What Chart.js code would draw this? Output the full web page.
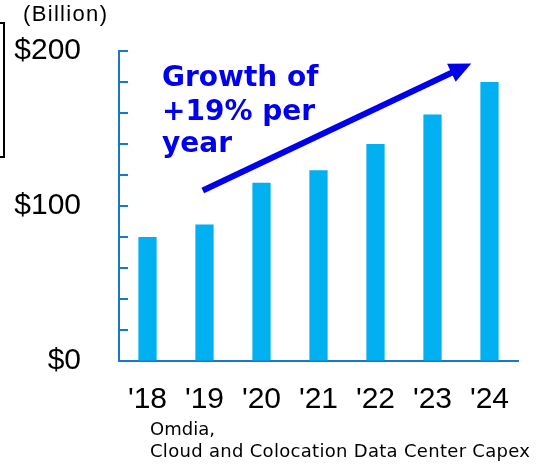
<!DOCTYPE html>
<html>
<head>
<meta charset="utf-8">
<script src="https://cdn.jsdelivr.net/npm/chart.js@4/dist/chart.umd.min.js"></script>
<style>
  html, body { margin: 0; padding: 0; background: #fff; }
  #wrap { width: 545px; height: 465px; position: relative; }
</style>
</head>
<body>
<div id="wrap"><canvas id="c"></canvas></div>
<script>
// ---- data ----
const categories = ["'18", "'19", "'20", "'21", "'22", "'23", "'24"];
const capexValues = [80, 88, 115, 123, 140, 159, 180];
const yMin = 0, yMax = 200, yStep = 20;
const yLabelValues = [0, 100, 200];
const unitLabel = '(Billion)';
const annotationLines = ['Growth of', '+19% per', 'year'];
const footnoteLines = ['Omdia,', 'Cloud and Colocation Data Center Capex'];
// arrow in data space: [category index, value]
const arrowFrom = [0.97, 110];
const arrowTo = [5.68, 192];

const AXIS = '#1a78c8';
const BAR = '#00b0f0';
const ANNOT = '#0000ee';

function fitText(ctx, text, x, y, targetWidth) {
  ctx.letterSpacing = '0px';
  const w = ctx.measureText(text).width;
  const n = Math.max(1, text.length - 1);
  const ls = (targetWidth - w) / n;
  ctx.letterSpacing = ls.toFixed(2) + 'px';
  ctx.fillText(text, x, y);
  ctx.letterSpacing = '0px';
}

const decor = {
  id: 'decor',
  afterDraw(chart) {
    const ctx = chart.ctx;
    const xs = chart.scales.x, ys = chart.scales.y;
    const axisX = chart.chartArea.left;
    ctx.save();
    // inward tick marks on y axis
    ctx.strokeStyle = AXIS;
    ctx.lineWidth = 2;
    for (let v = yMin; v <= yMax; v += yStep) {
      const y = Math.round(ys.getPixelForValue(v));
      ctx.beginPath();
      ctx.moveTo(axisX - 1, y);
      ctx.lineTo(axisX + 9, y);
      ctx.stroke();
    }
    // left bracket (cropped box edge)
    ctx.strokeStyle = '#000';
    ctx.lineWidth = 2;
    ctx.beginPath();
    ctx.moveTo(0, 23);
    ctx.lineTo(4, 23);
    ctx.lineTo(4, 157);
    ctx.lineTo(0, 157);
    ctx.stroke();
    // unit label
    ctx.fillStyle = '#000';
    ctx.font = '22px "Liberation Sans", Arial, sans-serif';
    ctx.textAlign = 'left';
    ctx.textBaseline = 'alphabetic';
    fitText(ctx, unitLabel, 23, 21, 84);
    // annotation text
    ctx.fillStyle = ANNOT;
    ctx.font = 'bold 28px "DejaVu Sans", Verdana, sans-serif';
    const tx = 162;
    const baselines = [86, 120, 152];
    annotationLines.forEach((t, i) => ctx.fillText(t, tx, baselines[i]));
    // arrow
    const x1 = xs.getPixelForValue(arrowFrom[0]), y1 = ys.getPixelForValue(arrowFrom[1]);
    const x2 = xs.getPixelForValue(arrowTo[0]), y2 = ys.getPixelForValue(arrowTo[1]);
    const ang = Math.atan2(y2 - y1, x2 - x1);
    const headLen = 22, headHalf = 10;
    const bx = x2 - headLen * Math.cos(ang), by = y2 - headLen * Math.sin(ang);
    ctx.strokeStyle = ANNOT;
    ctx.lineWidth = 6;
    ctx.lineCap = 'butt';
    ctx.beginPath();
    ctx.moveTo(x1, y1);
    ctx.lineTo(bx + 2 * Math.cos(ang), by + 2 * Math.sin(ang));
    ctx.stroke();
    ctx.beginPath();
    ctx.moveTo(x2, y2);
    ctx.lineTo(bx + headHalf * Math.sin(ang), by - headHalf * Math.cos(ang));
    ctx.lineTo(bx - headHalf * Math.sin(ang), by + headHalf * Math.cos(ang));
    ctx.closePath();
    ctx.fillStyle = ANNOT;
    ctx.fill();
    // footnote
    ctx.fillStyle = '#000';
    ctx.font = '18px "DejaVu Sans", Verdana, sans-serif';
    ctx.fillText(footnoteLines[0], 150, 435);
    fitText(ctx, footnoteLines[1], 150, 457, 380);
    ctx.restore();
  }
};

new Chart(document.getElementById('c'), {
  type: 'bar',
  data: {
    labels: categories,
    datasets: [{
      data: capexValues,
      backgroundColor: BAR,
      borderWidth: 0,
      barPercentage: 0.32,
      categoryPercentage: 1
    }]
  },
  options: {
    responsive: true,
    maintainAspectRatio: false,
    animation: false,
    devicePixelRatio: 1,
    layout: { padding: { left: 0, top: 51, right: 27, bottom: 0 } },
    plugins: { legend: { display: false }, tooltip: { enabled: false } },
    scales: {
      x: {
        grid: { display: false, drawTicks: false },
        border: { display: true, color: AXIS, width: 2 },
        ticks: {
          color: '#000',
          font: { family: '"Liberation Sans", Arial, sans-serif', size: 30 },
          padding: 21,
          maxRotation: 0,
          autoSkip: false
        },
        afterFit(s) { s.height = 104; }
      },
      y: {
        min: yMin, max: yMax,
        grid: { display: true, drawOnChartArea: false, drawTicks: false },
        border: { display: true, color: AXIS, width: 2 },
        ticks: {
          stepSize: yStep,
          autoSkip: false,
          color: '#000',
          font: { family: '"Liberation Sans", Arial, sans-serif', size: 30 },
          padding: 38,
          callback: v => yLabelValues.includes(v) ? '$' + v : ''
        },
        afterFit(s) { s.width = 119; s.paddingTop = 0; s.paddingBottom = 0; }
      }
    }
  },
  plugins: [decor]
});
</script>
</body>
</html>
